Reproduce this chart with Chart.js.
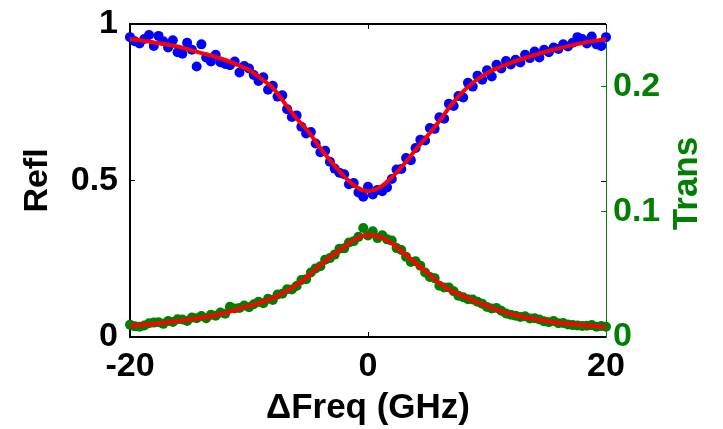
<!DOCTYPE html>
<html>
<head>
<meta charset="utf-8">
<script src="https://cdn.jsdelivr.net/npm/chart.js@4.4.0/dist/chart.umd.min.js"></script>
<style>
  html, body { margin: 0; padding: 0; background: #fff; }
  canvas { display: block; }
</style>
</head>
<body>
<canvas id="myChart" width="723" height="429"></canvas>
<script>
// measured detuning (GHz)
const freq = [
  -20.0, -19.6, -19.2, -18.8, -18.4, -18.0, -17.6, -17.2, -16.8, -16.4,
  -16.0, -15.6, -15.2, -14.8, -14.4, -14.0, -13.6, -13.2, -12.8, -12.4,
  -12.0, -11.6, -11.2, -10.8, -10.4, -10.0, -9.6, -9.2, -8.8, -8.4,
  -8.0, -7.6, -7.2, -6.8, -6.4, -6.0, -5.6, -5.2, -4.8, -4.4,
  -4.0, -3.6, -3.2, -2.8, -2.4, -2.0, -1.6, -1.2, -0.8, -0.4,
  0.0, 0.4, 0.8, 1.2, 1.6, 2.0, 2.4, 2.8, 3.2, 3.6,
  4.0, 4.4, 4.8, 5.2, 5.6, 6.0, 6.4, 6.8, 7.2, 7.6,
  8.0, 8.4, 8.8, 9.2, 9.6, 10.0, 10.4, 10.8, 11.2, 11.6,
  12.0, 12.4, 12.8, 13.2, 13.6, 14.0, 14.4, 14.8, 15.2, 15.6,
  16.0, 16.4, 16.8, 17.2, 17.6, 18.0, 18.4, 18.8, 19.2, 19.6, 20.0
];
const refl = [
  0.958, 0.945, 0.938, 0.952, 0.965, 0.930, 0.962, 0.945, 0.925, 0.948,
  0.910, 0.905, 0.940, 0.918, 0.864, 0.935, 0.893, 0.880, 0.902, 0.878,
  0.872, 0.868, 0.880, 0.845, 0.866, 0.858, 0.837, 0.818, 0.830, 0.790,
  0.803, 0.768, 0.772, 0.728, 0.703, 0.708, 0.672, 0.650, 0.655, 0.618,
  0.590, 0.595, 0.560, 0.538, 0.525, 0.520, 0.488, 0.492, 0.462, 0.448,
  0.480, 0.455, 0.470, 0.466, 0.478, 0.505, 0.535, 0.537, 0.572, 0.565,
  0.604, 0.630, 0.628, 0.668, 0.665, 0.702, 0.697, 0.745, 0.738, 0.770,
  0.765, 0.812, 0.800, 0.835, 0.822, 0.852, 0.832, 0.870, 0.858, 0.882,
  0.871, 0.886, 0.877, 0.902, 0.891, 0.912, 0.893, 0.918, 0.910, 0.925,
  0.920, 0.935, 0.928, 0.940, 0.958, 0.952, 0.938, 0.960, 0.935, 0.930, 0.958
];
const trans = [
  0.0098, 0.0085, 0.0082, 0.0092, 0.0110, 0.0115, 0.0118, 0.0105, 0.0128, 0.0120,
  0.0142, 0.0140, 0.0128, 0.0155, 0.0150, 0.0168, 0.0150, 0.0178, 0.0170, 0.0195,
  0.0185, 0.0242, 0.0228, 0.0232, 0.0252, 0.0238, 0.0262, 0.0282, 0.0270, 0.0305,
  0.0295, 0.0340, 0.0345, 0.0382, 0.0380, 0.0408, 0.0455, 0.0462, 0.0515, 0.0548,
  0.0565, 0.0618, 0.0630, 0.0658, 0.0705, 0.0708, 0.0755, 0.0765, 0.0800, 0.0870,
  0.0810, 0.0845, 0.0790, 0.0812, 0.0780, 0.0770, 0.0710, 0.0695, 0.0640, 0.0600,
  0.0605, 0.0570, 0.0515, 0.0480, 0.0470, 0.0410, 0.0395, 0.0395, 0.0365, 0.0330,
  0.0318, 0.0302, 0.0300, 0.0282, 0.0265, 0.0240, 0.0228, 0.0232, 0.0210, 0.0188,
  0.0178, 0.0170, 0.0160, 0.0165, 0.0148, 0.0150, 0.0140, 0.0125, 0.0118, 0.0128,
  0.0110, 0.0112, 0.0100, 0.0095, 0.0092, 0.0088, 0.0090, 0.0095, 0.0082, 0.0088, 0.0082
];

// fitted curves
const fitFreq = [
  -20, -19, -18, -17, -16, -15, -14, -13, -12, -11, -10, -9, -8, -7, -6, -5, -4, -3, -2, -1,
  0, 1, 2, 3, 4, 5, 6, 7, 8, 9, 10, 11, 12, 13, 14, 15, 16, 17, 18, 19, 20
];
const reflFit = [
  0.952, 0.947, 0.941, 0.935, 0.928, 0.918, 0.907, 0.897, 0.885, 0.870,
  0.853, 0.826, 0.796, 0.747, 0.698, 0.656, 0.603, 0.556, 0.513, 0.480,
  0.466, 0.478, 0.510, 0.551, 0.598, 0.643, 0.690, 0.742, 0.785, 0.818,
  0.843, 0.861, 0.876, 0.889, 0.901, 0.912, 0.922, 0.931, 0.939, 0.946, 0.952
];
const transFit = [
  0.0090, 0.0097, 0.0104, 0.0116, 0.0128, 0.0140, 0.0154, 0.0172, 0.0194, 0.0220,
  0.0248, 0.0277, 0.0310, 0.0360, 0.0415, 0.0490, 0.0575, 0.0650, 0.0720, 0.0785,
  0.0815, 0.0800, 0.0750, 0.0670, 0.0590, 0.0510, 0.0430, 0.0370, 0.0327, 0.0285,
  0.0248, 0.0210, 0.0184, 0.0162, 0.0144, 0.0128, 0.0114, 0.0104, 0.0096, 0.0088, 0.0080
];

const freqTicks = [-20, 0, 20];
const reflTicks = [0, 0.5, 1];
const transTicks = [0, 0.1, 0.2];

const green = '#008000';
const FONT = '"Liberation Sans", Arial, Helvetica, sans-serif';
Chart.defaults.font.family = FONT;

const pts = (xs, ys) => xs.map((x, i) => ({ x: x, y: ys[i] }));

// box top edge, mirrored ticks, and the right-hand label read bottom-to-top
const boxExtras = {
  id: 'boxExtras',
  afterDraw(chart) {
    const { ctx, chartArea: a, scales } = chart;
    ctx.save();
    ctx.strokeStyle = '#000';
    ctx.lineWidth = 2;
    ctx.beginPath();
    ctx.moveTo(a.left - 1, a.top);
    ctx.lineTo(a.right, a.top);
    ctx.stroke();
    ctx.lineWidth = 1;
    ctx.beginPath();
    freqTicks.forEach(v => {
      const px = Math.round(scales.x.getPixelForValue(v)) + 0.5;
      ctx.moveTo(px, a.top);
      ctx.lineTo(px, a.top + 5);
    });
    reflTicks.forEach(v => {
      const py = Math.round(scales.y.getPixelForValue(v)) + 0.5;
      ctx.moveTo(a.right, py);
      ctx.lineTo(a.right - 5, py);
    });
    ctx.stroke();

    const s = scales.y2;
    ctx.translate(s.right - 36, (s.top + s.bottom) / 2 + 3);
    ctx.rotate(-Math.PI / 2);
    ctx.font = 'bold 35px ' + FONT;
    ctx.fillStyle = green;
    ctx.textAlign = 'center';
    ctx.textBaseline = 'middle';
    ctx.fillText('Trans', 0, 0);
    ctx.restore();
  }
};

const noPad = s => { s.paddingTop = 0; s.paddingBottom = 0; };

const ctx = document.getElementById('myChart').getContext('2d');
new Chart(ctx, {
  type: 'scatter',
  data: {
    datasets: [
      { label: 'Refl fit', data: pts(fitFreq, reflFit), yAxisID: 'y', showLine: true,
        borderColor: '#ff0000', borderWidth: 4, pointRadius: 0, cubicInterpolationMode: 'monotone',
        order: 0, clip: false },
      { label: 'Trans fit', data: pts(fitFreq, transFit), yAxisID: 'y2', showLine: true,
        borderColor: '#ff0000', borderWidth: 4, pointRadius: 0, cubicInterpolationMode: 'monotone',
        order: 0, clip: false },
      { label: 'Refl', data: pts(freq, refl), yAxisID: 'y',
        pointRadius: 5, pointBackgroundColor: '#0000ff', pointBorderWidth: 0,
        order: 1, clip: false },
      { label: 'Trans', data: pts(freq, trans), yAxisID: 'y2',
        pointRadius: 5, pointBackgroundColor: green, pointBorderWidth: 0,
        order: 1, clip: false }
    ]
  },
  options: {
    responsive: false,
    animation: false,
    devicePixelRatio: 1,
    layout: { padding: { top: 24, left: 0, right: 0, bottom: 0 } },
    plugins: { legend: { display: false }, tooltip: { enabled: false } },
    scales: {
      x: {
        type: 'linear', position: 'bottom', min: -20, max: 20,
        afterBuildTicks: s => { s.ticks = freqTicks.map(v => ({ value: v })); },
        afterFit: s => { s.height = 92; },
        grid: { drawOnChartArea: false, tickLength: -5, color: '#000' },
        border: { color: '#000', width: 2 },
        ticks: { color: '#000', padding: 14, maxRotation: 0, font: { size: 34, weight: 'bold' } },
        title: { display: true, text: '\u0394Freq (GHz)', color: '#000',
                 font: { size: 35, weight: 'bold' }, padding: { top: 0, bottom: 0 } }
      },
      y: {
        type: 'linear', position: 'left', min: 0, max: 1,
        afterBuildTicks: s => { s.ticks = reflTicks.map(v => ({ value: v })); },
        afterFit: s => { s.width = 130; noPad(s); },
        grid: { drawOnChartArea: false, tickLength: -5, color: '#000' },
        border: { color: '#000', width: 2 },
        ticks: { color: '#000', padding: 17, callback: v => String(v), font: { size: 34, weight: 'bold' } },
        title: { display: true, text: 'Refl', color: '#000',
                 font: { size: 34, weight: 'bold' }, padding: { top: 17, bottom: 0 } }
      },
      y2: {
        type: 'linear', position: 'right', min: 0, max: 0.25,
        afterBuildTicks: s => { s.ticks = transTicks.map(v => ({ value: v })); },
        afterFit: s => { s.width = 117; noPad(s); },
        grid: { drawOnChartArea: false, tickLength: -5, color: green },
        border: { color: green, width: 1 },
        ticks: { color: green, padding: 12, callback: v => String(v), font: { size: 34, weight: 'bold' } }
      }
    }
  },
  plugins: [boxExtras]
});
</script>
</body>
</html>
